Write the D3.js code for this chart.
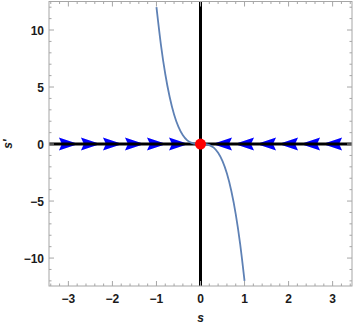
<!DOCTYPE html>
<html>
<head>
<meta charset="utf-8">
<script src="https://cdn.jsdelivr.net/npm/d3@7"></script>
<style>
  body { margin: 0; background: #fff; }
  text { font-family: "Liberation Sans", Arial, sans-serif; }
</style>
</head>
<body>
<div id="chart"></div>
<script>
// values
var curveS = [-1, -0.9, -0.8, -0.7, -0.6, -0.5, -0.4, -0.3, -0.2, -0.1, 0, 0.1, 0.2, 0.3, 0.4, 0.5, 0.6, 0.7, 0.8, 0.9, 1];
var curveV = [12, 8.75, 6.14, 4.12, 2.59, 1.5, 0.77, 0.32, 0.1, 0.01, 0, -0.01, -0.1, -0.32, -0.77, -1.5, -2.59, -4.12, -6.14, -8.75, -12];
var arrowsRight = [-3, -2.5, -2, -1.5, -1, -0.5];
var arrowsLeft = [0.5, 1, 1.5, 2, 2.5, 3];
var fixedPoints = [0];
var xTicks = [-3, -2, -1, 0, 1, 2, 3];
var yTicks = [-10, -5, 0, 5, 10];

function init() {
    var w = 354, h = 327;
    var left = 49, right = 352, top = 1.5, bottom = 286;

    var svg = d3.select("#chart").append("svg")
        .attr("width", w).attr("height", h);

    var x = d3.scaleLinear().domain([-3.44, 3.44]).range([left, right]);
    var y = d3.scaleLinear().domain([-12.45, 12.5]).range([bottom, top]);

    var minorX = d3.range(-34, 35, 2).map(function(d) { return d / 10; })
        .filter(function(d) { return xTicks.indexOf(d) < 0; });
    var minorY = d3.range(-12, 13).filter(function(d) { return yTicks.indexOf(d) < 0; });

    var plot = svg.append("g");
    plot.append("clipPath").attr("id", "clip").append("rect")
        .attr("x", left).attr("y", top).attr("width", right - left).attr("height", bottom - top);
    var inner = plot.append("g").attr("clip-path", "url(#clip)");

    // arrows along the s axis
    function arrowPath(dir) {
        return "M" + (10 * dir) + ",0 L" + (-9.5 * dir) + ",-6.5 L" + (-6.5 * dir) + ",0 L" + (-9.5 * dir) + ",6.5 Z";
    }
    inner.selectAll(".ar").data(arrowsRight).enter().append("path")
        .attr("transform", function(d) { return "translate(" + x(d) + "," + y(0) + ")"; })
        .attr("d", arrowPath(1)).attr("fill", "#0000ff");
    inner.selectAll(".al").data(arrowsLeft).enter().append("path")
        .attr("transform", function(d) { return "translate(" + x(d) + "," + y(0) + ")"; })
        .attr("d", arrowPath(-1)).attr("fill", "#0000ff");

    // black axis lines
    inner.append("line").attr("x1", left).attr("x2", right).attr("y1", y(0)).attr("y2", y(0))
        .attr("stroke", "#000").attr("stroke-width", 3);
    inner.append("line").attr("x1", x(0)).attr("x2", x(0)).attr("y1", top).attr("y2", bottom)
        .attr("stroke", "#000").attr("stroke-width", 3);

    // curve
    var line = d3.line().curve(d3.curveMonotoneX)
        .x(function(d, i) { return x(curveS[i]); })
        .y(function(d) { return y(d); });
    inner.append("path").datum(curveV).attr("d", line)
        .attr("fill", "none").attr("stroke", "#5e81b5").attr("stroke-width", 1.8);

    // fixed point
    inner.selectAll(".fp").data(fixedPoints).enter().append("circle")
        .attr("cx", function(d) { return x(d); }).attr("cy", y(0)).attr("r", 5.5)
        .attr("fill", "#ff0000");

    // frame with ticks
    var frame = "#a6a6a6";
    svg.append("rect").attr("x", left).attr("y", top).attr("width", right - left).attr("height", bottom - top)
        .attr("fill", "none").attr("stroke", frame).attr("stroke-width", 1);

    function ticksX(vals, len) {
        vals.forEach(function(v) {
            svg.append("line").attr("x1", x(v)).attr("x2", x(v)).attr("y1", bottom).attr("y2", bottom - len)
                .attr("stroke", frame);
            svg.append("line").attr("x1", x(v)).attr("x2", x(v)).attr("y1", top).attr("y2", top + len)
                .attr("stroke", frame);
        });
    }
    function ticksY(vals, len) {
        vals.forEach(function(v) {
            svg.append("line").attr("y1", y(v)).attr("y2", y(v)).attr("x1", left).attr("x2", left + len)
                .attr("stroke", frame);
            svg.append("line").attr("y1", y(v)).attr("y2", y(v)).attr("x1", right).attr("x2", right - len)
                .attr("stroke", frame);
        });
    }
    ticksX(xTicks, 5); ticksX(minorX, 2.5);
    ticksY(yTicks, 5); ticksY(minorY, 2.5);

    // tick labels
    function fmt(v) { return v < 0 ? "\u2212" + Math.abs(v) : String(v); }
    svg.selectAll(".xl").data(xTicks).enter().append("text")
        .attr("x", function(d) { return x(d); }).attr("y", 303)
        .attr("text-anchor", "middle").attr("font-size", 12).attr("font-weight", "bold")
        .attr("fill", "#1a1a1a").text(fmt);
    svg.selectAll(".yl").data(yTicks).enter().append("text")
        .attr("x", 44).attr("y", function(d) { return y(d) + 4.5; })
        .attr("text-anchor", "end").attr("font-size", 12).attr("font-weight", "bold")
        .attr("fill", "#1a1a1a").text(fmt);

    // axis labels
    svg.append("text").attr("x", x(0)).attr("y", 322).attr("text-anchor", "middle")
        .attr("font-size", 12).attr("font-weight", "bold").attr("font-style", "italic")
        .attr("fill", "#1a1a1a").text("s");
    svg.append("text").attr("transform", "translate(12," + y(0) + ") rotate(-90)")
        .attr("text-anchor", "middle").attr("font-size", 12).attr("font-weight", "bold")
        .attr("font-style", "italic").attr("fill", "#1a1a1a").text("s\u2032");
}

window.onload = init;
</script>
</body>
</html>
